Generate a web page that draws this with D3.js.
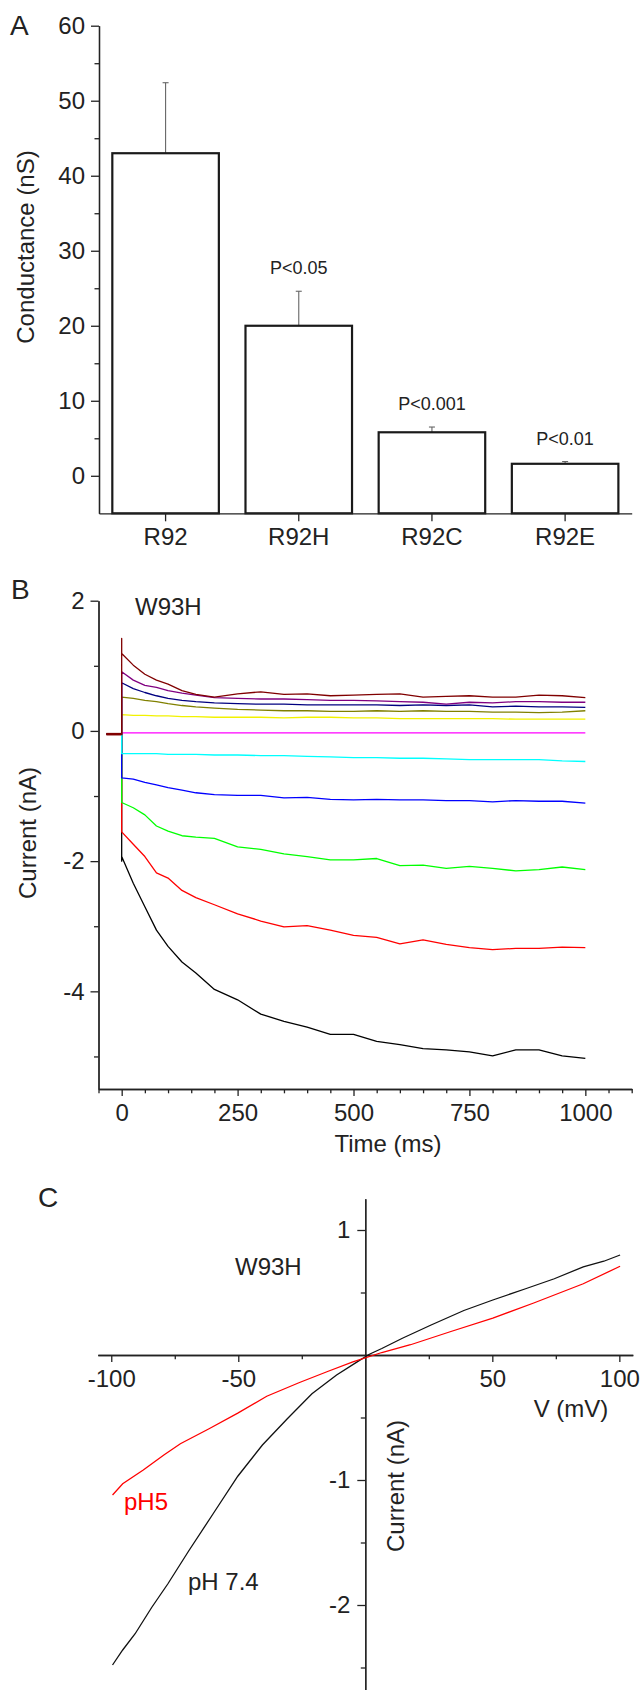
<!DOCTYPE html>
<html>
<head>
<meta charset="utf-8">
<script src="https://cdn.jsdelivr.net/npm/d3@7"></script>
<style>
    body { margin: 0; background: #fff; }
    svg text { font-family: "Liberation Sans", Arial, sans-serif; fill: #222; }
</style>
</head>
<body>
<div id="chart"></div>
<script>

/* * * * * * * * * * * * * *
*        chart data          *
* * * * * * * * * * * * * */

// panel A - conductance of the R92 mutants
let mutants = ["R92", "R92H", "R92C", "R92E"];
let conductance = [43, 20, 5.8, 1.6];
let conductanceErr = [9.4, 4.6, 0.7, 0.3];
let pLabels = ["", "P<0.05", "P<0.001", "P<0.01"];
let aTicks = [0, 10, 20, 30, 40, 50, 60];
let aMinorTicks = [5, 15, 25, 35, 45, 55];

// panel B - W93H current traces (ms, nA), listed top to bottom
let traceTimes = [0, 25, 50, 75, 100, 130, 160, 200, 250, 300, 350, 400, 450, 500, 550, 600, 650, 700, 750, 800, 850, 900, 950, 1000];
let holdStart = -33;
let holdCurrent = -0.05;
let traceColors = ["#800000", "#800080", "#000080", "#808000", "#f2f200", "#ff00ff", "#00ffff", "#0000ff", "#00ff00", "#ff0000", "#000000"];
let tracePeaks = [1.42, 0.91, 0.74, 0.52, 0.25, -0.03, -0.35, -0.72, -1.10, -1.55, -2.0];
let traceDarkRed = [1.19, 1.01, 0.87, 0.78, 0.72, 0.62, 0.56, 0.52, 0.57, 0.60, 0.56, 0.57, 0.54, 0.55, 0.56, 0.57, 0.52, 0.53, 0.54, 0.52, 0.52, 0.55, 0.54, 0.51];
let tracePurple = [0.91, 0.78, 0.70, 0.67, 0.62, 0.58, 0.55, 0.51, 0.50, 0.49, 0.49, 0.48, 0.47, 0.47, 0.46, 0.45, 0.44, 0.41, 0.44, 0.43, 0.45, 0.45, 0.44, 0.44];
let traceNavy = [0.74, 0.65, 0.59, 0.54, 0.50, 0.47, 0.45, 0.43, 0.42, 0.41, 0.41, 0.40, 0.40, 0.40, 0.40, 0.39, 0.40, 0.39, 0.40, 0.37, 0.38, 0.37, 0.37, 0.36];
let traceOlive = [0.52, 0.50, 0.47, 0.45, 0.42, 0.39, 0.37, 0.35, 0.33, 0.32, 0.31, 0.31, 0.30, 0.30, 0.31, 0.30, 0.31, 0.30, 0.30, 0.29, 0.29, 0.28, 0.29, 0.31];
let traceYellow = [0.25, 0.24, 0.24, 0.23, 0.23, 0.22, 0.22, 0.21, 0.21, 0.21, 0.20, 0.21, 0.21, 0.20, 0.20, 0.19, 0.19, 0.19, 0.19, 0.19, 0.18, 0.18, 0.18, 0.18];
let traceMagenta = [-0.03, -0.03, -0.03, -0.03, -0.03, -0.03, -0.03, -0.03, -0.03, -0.03, -0.03, -0.03, -0.03, -0.03, -0.03, -0.03, -0.03, -0.03, -0.03, -0.03, -0.03, -0.03, -0.03, -0.03];
let traceCyan = [-0.35, -0.35, -0.35, -0.35, -0.36, -0.36, -0.36, -0.37, -0.37, -0.38, -0.38, -0.39, -0.40, -0.41, -0.41, -0.42, -0.42, -0.43, -0.44, -0.44, -0.44, -0.44, -0.46, -0.47];
let traceBlue = [-0.72, -0.74, -0.79, -0.83, -0.87, -0.91, -0.95, -0.98, -0.99, -0.99, -1.03, -1.02, -1.05, -1.06, -1.05, -1.06, -1.06, -1.07, -1.07, -1.09, -1.07, -1.08, -1.08, -1.11];
let traceGreen = [-1.10, -1.18, -1.29, -1.46, -1.54, -1.61, -1.63, -1.65, -1.78, -1.82, -1.89, -1.93, -1.98, -1.98, -1.96, -2.07, -2.06, -2.11, -2.08, -2.11, -2.15, -2.13, -2.09, -2.13];
let traceRed = [-1.55, -1.74, -1.93, -2.18, -2.26, -2.45, -2.56, -2.67, -2.81, -2.92, -3.01, -2.99, -3.06, -3.14, -3.17, -3.27, -3.21, -3.28, -3.33, -3.36, -3.34, -3.34, -3.32, -3.33];
let traceBlack = [-1.93, -2.34, -2.70, -3.06, -3.31, -3.55, -3.72, -3.97, -4.13, -4.35, -4.46, -4.55, -4.66, -4.66, -4.77, -4.82, -4.88, -4.90, -4.93, -4.99, -4.90, -4.90, -4.99, -5.03];
let bTicks = [-4, -2, 0, 2];
let bMinorTicks = [-5, -3, -1, 1];
let timeTicks = [0, 250, 500, 750, 1000];
let timeMinorTicks = [-50, 50, 100, 150, 200, 300, 350, 400, 450, 550, 600, 650, 700, 800, 850, 900, 950, 1050, 1100];

// panel C - current / voltage relation
let ivVoltsPH74 = [-99.5, -95.5, -90.6, -84.1, -77.7, -69.6, -59.9, -50.2, -40.5, -30.7, -21.0, -11.3, -3.2, 1.6, 6.5, 14.6, 25.9, 38.8, 50.2, 63.1, 74.4, 85.8, 93.9, 100.3];
let ivCurrentPH74 = [-2.48, -2.36, -2.23, -2.02, -1.83, -1.57, -1.27, -0.97, -0.72, -0.51, -0.31, -0.16, -0.055, 0.006, 0.052, 0.134, 0.24, 0.356, 0.44, 0.53, 0.61, 0.705, 0.75, 0.80];
let ivVoltsPH5 = [-99.5, -95.5, -87.4, -79.3, -72.8, -61.5, -50.2, -38.8, -25.9, -14.6, -4.9, 6.5, 17.8, 34.0, 50.2, 66.3, 85.8, 100.3];
let ivCurrentPH5 = [-1.12, -1.03, -0.92, -0.80, -0.71, -0.59, -0.465, -0.33, -0.22, -0.13, -0.055, 0.02, 0.082, 0.19, 0.295, 0.416, 0.57, 0.71];
let voltTicks = [-100, -50, 50, 100];
let voltMinorTicks = [-75, -25, 25, 75];
let cTicks = [-2, -1, 1];
let cMinorTicks = [-2.5, -1.5, -0.5, 0.5];


/* * * * * * * * * * * * * *
*          drawing           *
* * * * * * * * * * * * * */

let svg = d3.select("#chart").append("svg")
    .attr("width", 643)
    .attr("height", 1690);

// plain labels: hyphen minus, no thousands comma
let plain = d => String(d);

// shared axis look
function styleAxis(g) {
    g.attr("font-size", 24).attr("font-family", null);
    g.select(".domain").attr("stroke", "#222").attr("stroke-width", 1.3);
    g.selectAll(".tick line").attr("stroke", "#222").attr("stroke-width", 1.3);
    g.selectAll(".tick text").attr("fill", "#222");
}

function addText(x, y, txt, size, color, anchor) {
    return svg.append("text")
        .attr("x", x).attr("y", y)
        .attr("font-size", size)
        .attr("text-anchor", anchor || "start")
        .style("fill", color || "#222")
        .text(txt);
}

function addVerticalTitle(x, y, txt) {
    svg.append("text")
        .attr("transform", `translate(${x},${y}) rotate(-90)`)
        .attr("text-anchor", "middle")
        .attr("font-size", 24)
        .text(txt);
}


// ---------- panel A ----------
function drawPanelA() {
    let x = d3.scaleBand().domain(mutants).range([99, 631.7]).paddingInner(0.2).paddingOuter(0.1);
    let y = d3.scaleLinear().domain([-5, 60]).range([513.3, 25.7]);

    let bars = mutants.map((m, i) => ({name: m, value: conductance[i], err: conductanceErr[i], p: pLabels[i]}));

    svg.append("g").attr("transform", "translate(99,0)")
        .call(d3.axisLeft(y).tickValues(aMinorTicks).tickSize(4.5).tickSizeOuter(0).tickFormat(""))
        .call(styleAxis);
    svg.append("g").attr("transform", "translate(99,0)")
        .call(d3.axisLeft(y).tickValues(aTicks).tickSize(8).tickSizeOuter(0).tickPadding(6).tickFormat(plain))
        .call(styleAxis);

    // error bars (upper half only)
    svg.selectAll(".err").data(bars).enter().append("line")
        .attr("x1", d => x(d.name) + x.bandwidth() / 2)
        .attr("x2", d => x(d.name) + x.bandwidth() / 2)
        .attr("y1", d => y(d.value))
        .attr("y2", d => y(d.value + d.err))
        .attr("stroke", "#666").attr("stroke-width", 1.1);
    svg.selectAll(".cap").data(bars).enter().append("line")
        .attr("x1", d => x(d.name) + x.bandwidth() / 2 - 3)
        .attr("x2", d => x(d.name) + x.bandwidth() / 2 + 3)
        .attr("y1", d => y(d.value + d.err))
        .attr("y2", d => y(d.value + d.err))
        .attr("stroke", "#666").attr("stroke-width", 1.1);

    svg.selectAll(".bar").data(bars).enter().append("rect")
        .attr("x", d => x(d.name))
        .attr("y", d => y(d.value))
        .attr("width", x.bandwidth())
        .attr("height", d => y(-5) - y(d.value))
        .attr("fill", "none")
        .attr("stroke", "#1a1a1a")
        .attr("stroke-width", 2.2);

    svg.selectAll(".plabel").data(bars).enter().append("text")
        .attr("x", d => x(d.name) + x.bandwidth() / 2)
        .attr("y", d => y(d.value + d.err) - 17)
        .attr("text-anchor", "middle")
        .attr("font-size", 18)
        .text(d => d.p);

    svg.append("g").attr("transform", "translate(0,513.3)")
        .call(d3.axisBottom(x).tickSize(8).tickSizeOuter(0).tickPadding(7))
        .call(styleAxis);

    addVerticalTitle(34, 247, "Conductance (nS)");
    addText(10, 35, "A", 28);
}


// ---------- panel B ----------
function drawPanelB() {
    let x = d3.scaleLinear().domain([-50, 1100]).range([98.5, 631.7]);
    let y = d3.scaleLinear().domain([-5.5, 2]).range([1089, 600.7]);

    svg.append("g").attr("transform", "translate(98.5,0)")
        .call(d3.axisLeft(y).tickValues(bMinorTicks).tickSize(4.5).tickSizeOuter(0).tickFormat(""))
        .call(styleAxis);
    svg.append("g").attr("transform", "translate(98.5,0)")
        .call(d3.axisLeft(y).tickValues(bTicks).tickSize(8).tickSizeOuter(0).tickPadding(6).tickFormat(plain))
        .call(styleAxis);
    svg.append("g").attr("transform", "translate(0,1089)")
        .call(d3.axisBottom(x).tickValues(timeMinorTicks).tickSize(4.3).tickSizeOuter(0).tickFormat(""))
        .call(styleAxis);
    svg.append("g").attr("transform", "translate(0,1089)")
        .call(d3.axisBottom(x).tickValues(timeTicks).tickSize(7).tickSizeOuter(0).tickPadding(8).tickFormat(plain))
        .call(styleAxis);

    let allTraces = [traceDarkRed, tracePurple, traceNavy, traceOlive, traceYellow, traceMagenta,
        traceCyan, traceBlue, traceGreen, traceRed, traceBlack];

    let line = d3.line().x(d => x(d.t)).y(d => y(d.v));

    // holding level, voltage step at t = 0, then the recorded trace
    let series = allTraces.map((vals, i) => {
        let pts = [{t: holdStart, v: holdCurrent}, {t: 0, v: holdCurrent}, {t: 0, v: tracePeaks[i]}];
        traceTimes.forEach((t, j) => pts.push({t: t, v: vals[j]}));
        return {color: traceColors[i], pts: pts};
    });

    // bottom trace first so the upper ones sit on top at the step
    svg.selectAll(".trace").data(series.slice().reverse()).enter().append("path")
        .attr("d", d => line(d.pts))
        .attr("fill", "none")
        .attr("stroke", d => d.color)
        .attr("stroke-width", 1.3)
        .attr("stroke-linejoin", "round");

    // all sweeps overlap on the holding level
    svg.append("path")
        .attr("d", line([{t: holdStart, v: holdCurrent}, {t: 0, v: holdCurrent}]))
        .attr("stroke", traceColors[0])
        .attr("stroke-width", 2.6);

    addText(135, 615, "W93H", 24);
    addVerticalTitle(36, 833, "Current (nA)");
    addText(388, 1152, "Time (ms)", 24, "#222", "middle");
    addText(11, 599, "B", 28);
}


// ---------- panel C ----------
function drawPanelC() {
    let x = d3.scaleLinear().domain([-105.3, 105.3]).range([97.8, 632.8]);
    let y = d3.scaleLinear().domain([-2.8, 1.25]).range([1705, 1198.75]);

    svg.append("g").attr("transform", `translate(${x(0)},0)`)
        .call(d3.axisLeft(y).tickValues(cMinorTicks).tickSize(4.5).tickSizeOuter(0).tickFormat(""))
        .call(styleAxis);
    svg.append("g").attr("transform", `translate(${x(0)},0)`)
        .call(d3.axisLeft(y).tickValues(cTicks).tickSize(8).tickSizeOuter(0).tickPadding(7).tickFormat(plain))
        .call(styleAxis);
    svg.append("g").attr("transform", `translate(0,${y(0)})`)
        .call(d3.axisBottom(x).tickValues(voltMinorTicks).tickSize(4.3).tickSizeOuter(0).tickFormat(""))
        .call(styleAxis);
    svg.append("g").attr("transform", `translate(0,${y(0)})`)
        .call(d3.axisBottom(x).tickValues(voltTicks).tickSize(7).tickSizeOuter(0).tickPadding(8).tickFormat(plain))
        .call(styleAxis);

    let line = d3.line().x(d => x(d[0])).y(d => y(d[1]));

    svg.append("path")
        .attr("d", line(ivVoltsPH74.map((v, i) => [v, ivCurrentPH74[i]])))
        .attr("fill", "none").attr("stroke", "#111").attr("stroke-width", 1.3);
    svg.append("path")
        .attr("d", line(ivVoltsPH5.map((v, i) => [v, ivCurrentPH5[i]])))
        .attr("fill", "none").attr("stroke", "#ff0000").attr("stroke-width", 1.3);

    addText(235, 1275, "W93H", 24);
    addText(124, 1510, "pH5", 24, "#ff0000");
    addText(188, 1590, "pH 7.4", 24);
    addText(571, 1417, "V (mV)", 24, "#222", "middle");
    addVerticalTitle(404, 1486, "Current (nA)");
    addText(38, 1207, "C", 28);
}

drawPanelA();
drawPanelB();
drawPanelC();

</script>
</body>
</html>
